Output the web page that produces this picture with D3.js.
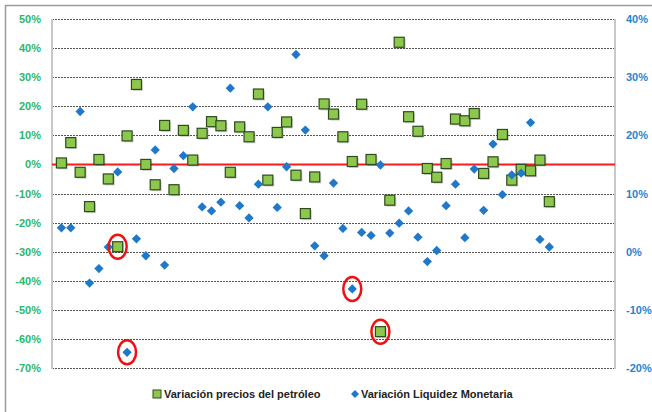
<!DOCTYPE html>
<html lang="es">
<head>
<meta charset="UTF-8">
<title>Petróleo vs liquidez</title>
<script src="https://cdn.jsdelivr.net/npm/d3@7"></script>
<style>
	body { margin: 0; background: #fff; }
	text { font-family: "Liberation Sans", Arial, sans-serif; font-weight: bold; }
</style>
</head>
<body>
<svg id="chart" width="652" height="412"></svg>
<script>
// variación precios del petróleo (eje izquierdo), en %
const petroleo = [0.5, 7.5, -2.7, -14.5, 1.7, -5, -28.3, 9.8, 27.5, 0, -7, 13.4, -8.7, 11.7, 1.5, 10.7, 14.7, 13.3,
	-2.7, 12.9, 9.5, 24.2, -5.4, 11, 14.6, -3.7, -16.9, -4.3, 20.8, 17.3, 9.5, 1, 20.7, 1.7, -57.5, -12.3, 42, 16.4,
	11.4, -1.4, -4.4, 0.3, 15.6, 15, 17.5, -3.1, 0.9, 10.3, -5.4, -1.7, -2.2, 1.5, -12.8];
// variación liquidez monetaria (eje derecho), en %
const liquidez = [4.1, 4.1, 24.1, -5.4, -2.9, 0.8, 13.7, -17.3, 2.2, -0.7, 17.5, -2.3, 14.3, 16.5, 24.9, 7.7, 7.0, 8.5,
	28.1, 7.9, 5.8, 11.6, 24.9, 7.6, 14.6, 33.9, 20.9, 1.0, -0.7, 11.8, 4.0, -6.4, 3.3, 2.8, 14.9, 3.2, 4.9, 7.0,
	2.5, -1.7, 0.2, 7.9, 11.6, 2.4, 14.2, 7.1, 18.5, 9.8, 13.2, 13.5, 22.2, 2.1, 0.8];
const ticksIzq = [50, 40, 30, 20, 10, 0, -10, -20, -30, -40, -50, -60, -70];
const ticksDer = [40, 30, 20, 10, 0, -10, -20];
// puntos marcados con círculo rojo: [serie, índice]
const marcados = [["p", 6], ["l", 7], ["l", 31], ["p", 34]];
const leyenda = ["Variación precios del petróleo", "Variación Liquidez Monetaria"];

const svg = d3.select("#chart");
const L = 52, R = 615, T = 19, B = 368;

const x = d3.scaleLinear().domain([0, 60]).range([L, R]);
const yL = d3.scaleLinear().domain([-70, 50]).range([B, T]);
const yR = d3.scaleLinear().domain([-20, 40]).range([B, T]);

// marco exterior
svg.append("rect").attr("x", 5.5).attr("y", 5.5).attr("width", 660).attr("height", 420)
	.attr("fill", "none").attr("stroke", "#9a9a9a").attr("stroke-width", 1.5);

// rejilla
svg.append("g").selectAll("line").data(ticksIzq).enter().append("line")
	.attr("x1", L).attr("x2", R)
	.attr("y1", d => Math.round(yL(d)) + 0.5).attr("y2", d => Math.round(yL(d)) + 0.5)
	.attr("stroke", "#555").attr("stroke-width", 1).attr("stroke-dasharray", "2,1");

// ejes verticales
svg.append("line").attr("x1", L).attr("x2", L).attr("y1", T).attr("y2", B + 1)
	.attr("stroke", "#c8c8c8").attr("stroke-width", 2);
svg.append("line").attr("x1", R).attr("x2", R).attr("y1", T).attr("y2", B + 1)
	.attr("stroke", "#c8c8c8").attr("stroke-width", 2);

// etiquetas
svg.append("g").selectAll("text").data(ticksIzq).enter().append("text")
	.attr("x", 41).attr("y", d => yL(d) + 4)
	.attr("text-anchor", "end").attr("font-size", 11).attr("fill", "#2bb86a")
	.text(d => d + "%");
svg.append("g").selectAll("text").data(ticksDer).enter().append("text")
	.attr("x", 626).attr("y", d => yR(d) + 4)
	.attr("font-size", 11).attr("fill", "#2484d6")
	.text(d => d + "%");

// linea roja del cero
svg.append("line").attr("x1", L).attr("x2", R).attr("y1", yL(0)).attr("y2", yL(0))
	.attr("stroke", "#ff1a1a").attr("stroke-width", 2);

// cuadrados (petróleo)
const sq = 10;
const gP = svg.append("g");
gP.selectAll(".sombra").data(petroleo).enter().append("rect")
	.attr("x", (d, i) => x(i + 1) - sq / 2 + 1.5).attr("y", d => yL(d) - sq / 2 + 1.5)
	.attr("width", sq).attr("height", sq).attr("fill", "#000").attr("opacity", 0.18);
gP.selectAll(".cuadro").data(petroleo).enter().append("rect")
	.attr("x", (d, i) => x(i + 1) - sq / 2).attr("y", d => yL(d) - sq / 2)
	.attr("width", sq).attr("height", sq)
	.attr("fill", "#8cc84b").attr("stroke", "#2f4a1e").attr("stroke-width", 1.2);

// rombos (liquidez)
const rombo = d3.symbol().type(d3.symbolDiamond2).size(55);
svg.append("g").selectAll("path").data(liquidez).enter().append("path")
	.attr("d", rombo)
	.attr("transform", (d, i) => "translate(" + x(i + 1) + "," + yR(d) + ")")
	.attr("fill", "#1f78c8");

// círculos rojos
svg.append("g").selectAll("ellipse").data(marcados).enter().append("ellipse")
	.attr("cx", d => x(d[1] + 1))
	.attr("cy", d => d[0] == "p" ? yL(petroleo[d[1]]) : yR(liquidez[d[1]]))
	.attr("rx", 9).attr("ry", 12)
	.attr("fill", "none").attr("stroke", "#f01010").attr("stroke-width", 2.5);

// leyenda
const leg = svg.append("g");
leg.append("rect").attr("x", 153).attr("y", 390).attr("width", 8).attr("height", 8)
	.attr("fill", "#8cc84b").attr("stroke", "#2f4a1e").attr("stroke-width", 1);
leg.append("text").attr("x", 164).attr("y", 398).attr("font-size", 11).attr("fill", "#222").text(leyenda[0]);
leg.append("path").attr("d", d3.symbol().type(d3.symbolDiamond2).size(40))
	.attr("transform", "translate(355,394)").attr("fill", "#1f78c8");
leg.append("text").attr("x", 361).attr("y", 398).attr("font-size", 11).attr("fill", "#222").text(leyenda[1]);
</script>
</body>
</html>
